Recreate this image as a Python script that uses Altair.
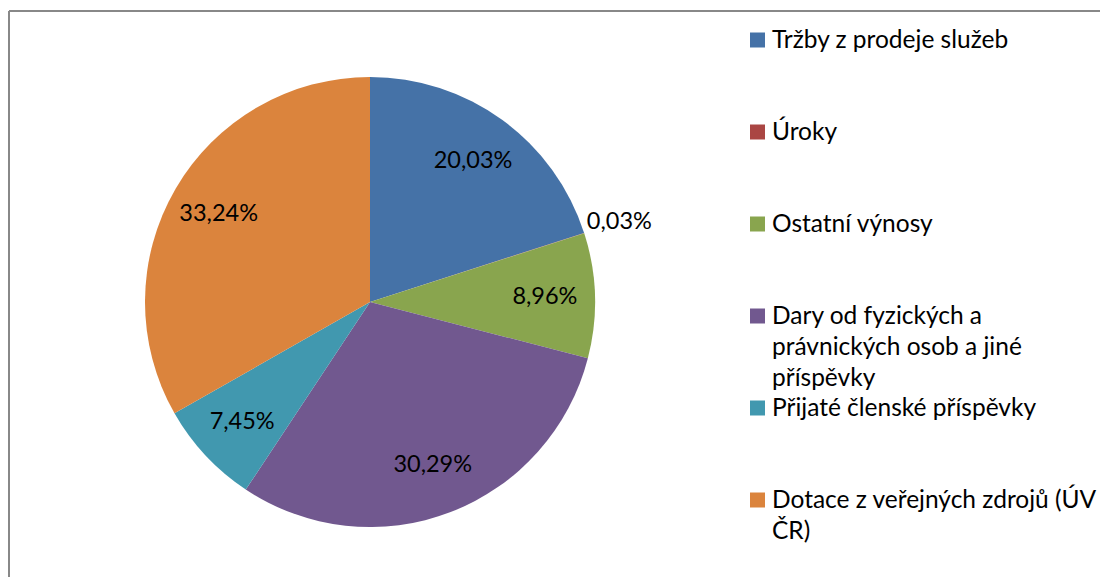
import altair as alt
import pandas as pd

categories = [
    "Tržby z prodeje služeb",
    "Úroky",
    "Ostatní výnosy",
    "Dary od fyzických a právnických osob a jiné příspěvky",
    "Přijaté členské příspěvky",
    "Dotace z veřejných zdrojů (ÚV ČR)",
]
values = [20.03, 0.03, 8.96, 30.29, 7.45, 33.24]
value_labels = ["20,03%", "0,03%", "8,96%", "30,29%", "7,45%", "33,24%"]
legend_labels = [
    "Tržby z prodeje služeb",
    "Úroky",
    "Ostatní výnosy",
    "Dary od fyzických a\nprávnických osob a jiné\npříspěvky",
    "Přijaté členské příspěvky",
    "Dotace z veřejných zdrojů (ÚV\nČR)",
]
colors = ["#4572A7", "#AA4643", "#89A54E", "#71588F", "#4198AF", "#DB843D"]

df = pd.DataFrame({
    "idx": list(range(len(categories))),
    "cat": categories,
    "value": values,
    "label": value_labels,
    "legend": legend_labels,
})

FONT = "Lato"
CX, CY, R = 362, 294, 225

color = alt.Color("cat:N", scale=alt.Scale(domain=categories, range=colors), legend=None)

base = alt.Chart(df).transform_stack(
    stack="value", groupby=[], as_=["s0", "s1"], offset="normalize",
    sort=[alt.SortField("idx", order="ascending")],
).transform_calculate(mid="(datum.s0 + datum.s1) / 2")

theta_scale = alt.Scale(domain=[0, 1])

pie = base.mark_arc(stroke=None).encode(
    theta=alt.Theta("s0:Q", scale=theta_scale),
    theta2="s1:Q",
    color=color,
    x=alt.value(CX), y=alt.value(CY), radius=alt.value(R),
)

inner = base.transform_filter("datum.value >= 1").mark_text(
    font=FONT, fontSize=23.5, color="#000000", align="center", baseline="middle"
).encode(
    theta=alt.Theta("mid:Q", scale=theta_scale),
    radius=alt.value(175),
    x=alt.value(CX), y=alt.value(CY),
    text="label:N",
)

outer = base.transform_filter("datum.value < 1").mark_text(
    font=FONT, fontSize=23.5, color="#000000", align="center", baseline="middle"
).encode(
    theta=alt.Theta("mid:Q", scale=theta_scale),
    radius=alt.value(262),
    x=alt.value(CX), y=alt.value(CY),
    text="label:N",
)

ypos = alt.Y("cat:N", sort=categories, scale=alt.Scale(type="point", range=[32, 492], padding=0), axis=None)

leg_sym = alt.Chart(df).mark_square(size=225, opacity=1).encode(
    x=alt.value(749.5), y=ypos, color=color,
)
leg_txt = alt.Chart(df).mark_text(
    font=FONT, fontSize=24.5, color="#000000", align="left", baseline="line-top",
    lineBreak="\n", lineHeight=31, dy=-15.5,
).encode(
    x=alt.value(764), y=ypos, text="legend:N",
)

border_v = alt.Chart(df).mark_rule(color="#888888", strokeWidth=2).encode(
    x=alt.value(1), y=alt.value(3), y2=alt.value(569)
)
border_h = alt.Chart(df).mark_rule(color="#888888", strokeWidth=2).encode(
    x=alt.value(1), x2=alt.value(1092), y=alt.value(3)
)

chart = alt.layer(pie, inner, outer, leg_sym, leg_txt, border_v, border_h).properties(
    width=1092, height=569, padding=0,
    autosize=alt.AutoSizeParams(type="none"),
).configure_view(stroke=None)

chart.save("out.html", embed_options={"renderer": "svg", "actions": False})
